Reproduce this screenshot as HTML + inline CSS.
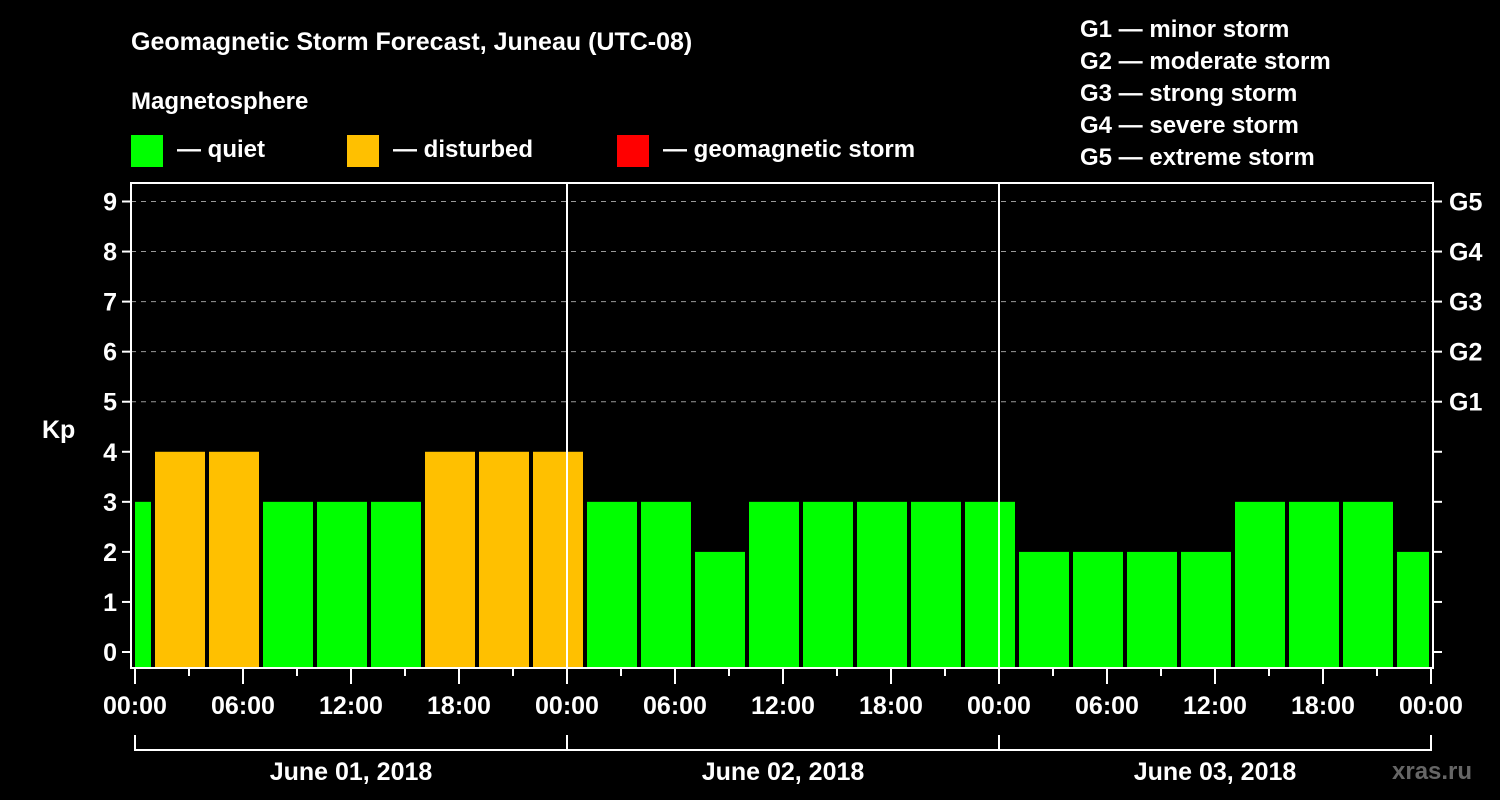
<!DOCTYPE html>
<html><head><meta charset="utf-8"><style>
html,body{margin:0;padding:0;background:#000;}
svg{display:block;font-family:"Liberation Sans",Arial,sans-serif;font-weight:bold;}
</style></head><body>
<svg id="chart" width="1500" height="800" viewBox="0 0 1500 800">
<rect width="1500" height="800" fill="#000"/>
<text x="131" y="50" fill="#fff" font-size="25">Geomagnetic Storm Forecast, Juneau (UTC-08)</text>
<text x="131" y="109" fill="#fff" font-size="24">Magnetosphere</text>
<g><rect x="131" y="135" width="32" height="32" fill="#00ff00"/><text x="177" y="157" fill="#fff" font-size="24">— quiet</text></g>
<g><rect x="347" y="135" width="32" height="32" fill="#ffc000"/><text x="393" y="157" fill="#fff" font-size="24">— disturbed</text></g>
<g><rect x="617" y="135" width="32" height="32" fill="#ff0000"/><text x="663" y="157" fill="#fff" font-size="24">— geomagnetic storm</text></g>
<g fill="#fff" font-size="24">
<text x="1080" y="37">G1 — minor storm</text>
<text x="1080" y="69">G2 — moderate storm</text>
<text x="1080" y="101">G3 — strong storm</text>
<text x="1080" y="133">G4 — severe storm</text>
<text x="1080" y="165">G5 — extreme storm</text>
</g>
<g id="plot"></g>
<text x="42" y="438" fill="#fff" font-size="25">Kp</text>
<text x="1392" y="779" fill="#666" font-size="24">xras.ru</text>
</svg>
<script>
const kpValues=[3,4,4,3,3,3,4,4,4,3,3,2,3,3,3,3,3,2,2,2,2,3,3,3,2];
const dayLabels=["June 01, 2018","June 02, 2018","June 03, 2018"];
const gLabels=["G1","G2","G3","G4","G5"];
const hourLabels=["00:00","06:00","12:00","18:00"];
const firstBarStartHour=-2; // 22:00 previous day
const NS="http://www.w3.org/2000/svg";
const L=131,R=1433,T=183,B=668;
const x0=135,pxPerHour=18;
function xs(h){return x0+h*pxPerHour;}
function ys(v){return 652-v*(652-201.5)/9;}
const plot=document.getElementById('plot');
function mk(tag,attrs,parent){const e=document.createElementNS(NS,tag);for(const k in attrs)e.setAttribute(k,attrs[k]);(parent||plot).appendChild(e);return e;}
// gridlines
for(let v=5;v<=9;v++){
 const g=mk('line',{x1:L,x2:R,y1:ys(v),y2:ys(v),stroke:'#999','stroke-width':1,'stroke-dasharray':'5,5'});
 
 
}
// bars
kpValues.forEach((v,i)=>{
 const h0=firstBarStartHour+i*3;
 let xa=xs(h0)+2,xb=xs(h0+3)-2;
 xa=Math.max(xa,L+4);xb=Math.min(xb,R-4);
 const c=v>=5?'#ff0000':(v>=4?'#ffc000':'#00ff00');
 const r=mk('rect',{x:xa,y:ys(v),width:xb-xa,height:667-ys(v),fill:c});
 
 
});
// day separators
for(let d=1;d<dayLabels.length;d++){
 const l=mk('line',{x1:xs(d*24),x2:xs(d*24),y1:T,y2:B,stroke:'#fff','stroke-width':2});
 
 
}
// frame
const fr=mk('rect',{x:L,y:T,width:R-L,height:B-T,fill:'none',stroke:'#fff','stroke-width':2});


// y ticks
for(let v=0;v<=9;v++){
 const t=mk('line',{x1:L-9,x2:L,y1:ys(v),y2:ys(v),stroke:'#fff','stroke-width':2});
 
 
 const tx=mk('text',{x:L-14,y:ys(v)+9,fill:'#fff','font-size':25,'text-anchor':'end'});
 tx.textContent=v;
 
 
 const t2=mk('line',{x1:R,x2:R+9,y1:ys(v),y2:ys(v),stroke:'#fff','stroke-width':2});
 
 
}
gLabels.forEach((g,i)=>{
 const tx=mk('text',{x:R+16,y:ys(5+i)+9,fill:'#fff','font-size':25});
 tx.textContent=g;
 
 
});
// x ticks
for(let h=0;h<=dayLabels.length*24;h+=3){
 const major=h%6===0;
 const t=mk('line',{x1:xs(h),x2:xs(h),y1:B,y2:B+(major?16:8),stroke:'#fff','stroke-width':2});
 
 
 if(major){
  const tx=mk('text',{x:xs(h),y:714,fill:'#fff','font-size':25,'text-anchor':'middle'});
  tx.textContent=hourLabels[(h%24)/6];
  
  
 }
}
// day brackets
const br=mk('line',{x1:xs(0),x2:xs(dayLabels.length*24),y1:750,y2:750,stroke:'#fff','stroke-width':2});


for(let d=0;d<=dayLabels.length;d++){
 const l=mk('line',{x1:xs(d*24),x2:xs(d*24),y1:735,y2:751,stroke:'#fff','stroke-width':2});
 
 
}
dayLabels.forEach((d,i)=>{
 const tx=mk('text',{x:xs(i*24+12),y:780,fill:'#fff','font-size':25,'text-anchor':'middle'});
 tx.textContent=d;
 
 
});
</script>
</body></html>
